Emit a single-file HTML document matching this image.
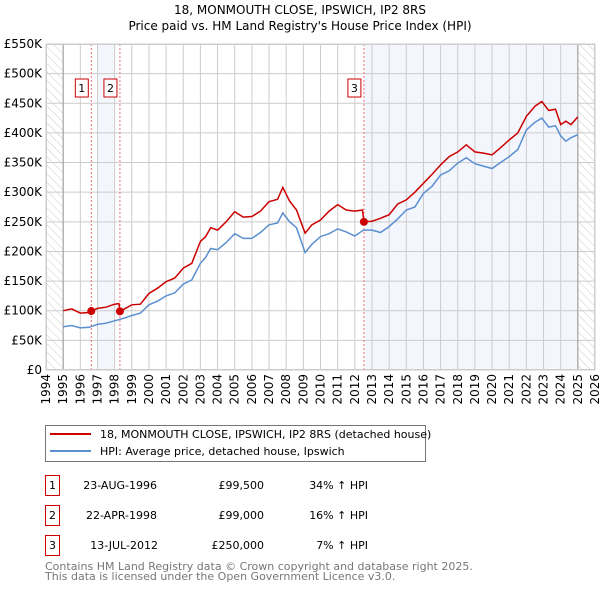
<!DOCTYPE html>
<html><head><meta charset="utf-8"><style>
body{margin:0;background:#fff;font-family:"DejaVu Sans","Liberation Sans",sans-serif;}
svg text{font-family:"DejaVu Sans","Liberation Sans",sans-serif;}
</style></head><body>
<svg id="chart" width="600" height="590" viewBox="0 0 600 590">
<defs><pattern id="hatch" width="6" height="6" patternUnits="userSpaceOnUse" patternTransform="rotate(-45)"><line x1="0" y1="0" x2="0" y2="6" stroke="#ccc" stroke-width="1"/></pattern></defs>
<text x="300" y="14" text-anchor="middle" font-size="12">18, MONMOUTH CLOSE, IPSWICH, IP2 8RS</text>
<text x="300" y="30" text-anchor="middle" font-size="12">Price paid vs. HM Land Registry's House Price Index (HPI)</text>
<g id="plot"></g>
<g>
<rect x="45.5" y="425.5" width="380" height="36" fill="#fff" stroke="#777"/>
<line x1="50" y1="434" x2="91" y2="434" stroke="#cc0000" stroke-width="2"/>
<text x="100" y="438" font-size="11">18, MONMOUTH CLOSE, IPSWICH, IP2 8RS (detached house)</text>
<line x1="50" y1="451" x2="91" y2="451" stroke="#5b8fd0" stroke-width="2"/>
<text x="100" y="455" font-size="11">HPI: Average price, detached house, Ipswich</text>
</g>
<g font-size="11">
<rect x="45.5" y="475.5" width="14" height="20" fill="#fff" stroke="#cc0000"/><text x="52.5" y="489" text-anchor="middle">1</text>
<text x="157" y="489" text-anchor="end">23-AUG-1996</text><text x="264" y="489" text-anchor="end">£99,500</text><text x="368" y="489" text-anchor="end">34% ↑ HPI</text>
<rect x="45.5" y="505.5" width="14" height="20" fill="#fff" stroke="#cc0000"/><text x="52.5" y="519" text-anchor="middle">2</text>
<text x="157" y="519" text-anchor="end">22-APR-1998</text><text x="264" y="519" text-anchor="end">£99,000</text><text x="368" y="519" text-anchor="end">16% ↑ HPI</text>
<rect x="45.5" y="535.5" width="14" height="20" fill="#fff" stroke="#cc0000"/><text x="52.5" y="549" text-anchor="middle">3</text>
<text x="158" y="549" text-anchor="end">13-JUL-2012</text><text x="264" y="549" text-anchor="end">£250,000</text><text x="368" y="549" text-anchor="end">7% ↑ HPI</text>
</g>
<text x="45" y="570" font-size="11" fill="#777">Contains HM Land Registry data © Crown copyright and database right 2025.</text>
<text x="45" y="580" font-size="11" fill="#777">This data is licensed under the Open Government Licence v3.0.</text>
</svg>
<script>
const hpiYears=[1995,1995.5,1996,1996.5,1997,1997.5,1998,1998.5,1999,1999.5,2000,2000.5,2001,2001.5,2002,2002.5,2003,2003.3,2003.6,2004,2004.5,2005,2005.5,2006,2006.5,2007,2007.5,2007.8,2008.2,2008.6,2009.1,2009.5,2010,2010.5,2011,2011.5,2012,2012.5,2013,2013.5,2014,2014.5,2015,2015.5,2016,2016.5,2017,2017.5,2018,2018.5,2019,2019.5,2020,2020.5,2021,2021.5,2022,2022.5,2022.9,2023.3,2023.7,2024,2024.3,2024.6,2025];
const hpiValues=[73,75,71,72,77,79,83,87,92,96,110,116,125,130,145,152,180,190,205,203,215,230,222,222,232,245,248,265,250,240,198,212,225,230,238,233,226,236,236,232,242,255,270,275,298,310,329,336,349,358,348,344,340,350,360,372,405,418,425,410,412,395,386,392,397];
const priceYears=[1995,1995.5,1996,1996.5,1996.65,1997,1997.5,1998,1998.25,1998.32,1998.7,1999,1999.5,2000,2000.5,2001,2001.5,2002,2002.5,2003,2003.3,2003.6,2004,2004.5,2005,2005.5,2006,2006.5,2007,2007.5,2007.8,2008.2,2008.6,2009.1,2009.5,2010,2010.5,2011,2011.5,2012,2012.45,2012.53,2013,2013.5,2014,2014.5,2015,2015.5,2016,2016.5,2017,2017.5,2018,2018.5,2019,2019.5,2020,2020.5,2021,2021.5,2022,2022.5,2022.9,2023.3,2023.7,2024,2024.3,2024.6,2025];
const priceValues=[100,103,96,97,99.5,104,106,111,112,99,105,110,111,129,138,149,155,172,180,217,225,240,236,250,267,258,259,268,284,288,308,285,270,231,245,253,268,279,270,268,270,250,251,256,262,280,287,300,315,330,346,360,368,380,368,366,363,375,388,400,428,445,453,438,440,414,420,414,427];
const yTicks=[0,50,100,150,200,250,300,350,400,450,500,550];
const yTickLabels=["£0","£50K","£100K","£150K","£200K","£250K","£300K","£350K","£400K","£450K","£500K","£550K"];
const xTicks=[1994,1995,1996,1997,1998,1999,2000,2001,2002,2003,2004,2005,2006,2007,2008,2009,2010,2011,2012,2013,2014,2015,2016,2017,2018,2019,2020,2021,2022,2023,2024,2025,2026];
const saleYears=[1996.64,1998.31,2012.53];
const saleValues=[99.5,99,250];
const saleLabels=["1","2","3"];
const L=46,R=595,T=44,B=370;
const x=v=>L+(v-1994)/32*(R-L);
const y=v=>B-v/550*(B-T);
const NS="http://www.w3.org/2000/svg";
const g=document.getElementById('plot');
function mk(tag,attrs,parent){const e=document.createElementNS(NS,tag);for(const k in attrs)e.setAttribute(k,attrs[k]);(parent||g).appendChild(e);return e;}
let e;
e=mk('rect',{x:L,y:T,width:R-L,height:B-T,fill:'#fff'});


e=mk('rect',{x:x(1997),y:T,width:x(1998)-x(1997),height:B-T,fill:'#f3f6fd'});


e=mk('rect',{x:x(2012.55),y:T,width:x(2025)-x(2012.55),height:B-T,fill:'#f3f6fd'});


e=mk('rect',{x:L,y:T,width:x(1995)-L,height:B-T,fill:'url(#hatch)'});


e=mk('rect',{x:x(2025),y:T,width:R-x(2025),height:B-T,fill:'url(#hatch)'});


yTicks.forEach((t,i)=>{
 e=mk('line',{x1:L,x2:R,y1:y(t),y2:y(t),stroke:'#ccc'});
 
 
 e=mk('text',{x:L-4,y:y(t)+4,'text-anchor':'end','font-size':'12'});
 e.textContent=yTickLabels[i];
 
 
});
xTicks.forEach(t=>{
 e=mk('line',{x1:x(t),x2:x(t),y1:T,y2:B,stroke:'#ccc'});
 
 
 e=mk('text',{x:0,y:0,'text-anchor':'end','font-size':'12',transform:`translate(${x(t)+4},${B+4}) rotate(-90)`});
 e.textContent=t;
 
 
});
e=mk('line',{x1:x(1995),x2:x(1995),y1:T,y2:B,stroke:'#999'});


e=mk('line',{x1:x(2025),x2:x(2025),y1:T,y2:B,stroke:'#999'});


saleYears.forEach((s,i)=>{
 e=mk('line',{x1:x(s),x2:x(s),y1:T,y2:B,stroke:'#f07070','stroke-dasharray':'2,2'});
 
 
 e=mk('rect',{x:x(s)-20+0.5*0,y:79,width:13,height:18,fill:'#fff',stroke:'#cc0000'});
 e.setAttribute('x',x(s)-16);
 
 
 e=mk('text',{x:x(s)-9.5,y:92,'text-anchor':'middle','font-size':'11'});
 e.textContent=saleLabels[i];
 
 
});
e=mk('path',{d:hpiYears.map((v,i)=>(i?'L':'M')+x(v).toFixed(1)+' '+y(hpiValues[i]).toFixed(1)).join(''),fill:'none',stroke:'#5b8fd0','stroke-width':1.5});


e=mk('path',{d:priceYears.map((v,i)=>(i?'L':'M')+x(v).toFixed(1)+' '+y(priceValues[i]).toFixed(1)).join(''),fill:'none',stroke:'#cc0000','stroke-width':1.5});


saleYears.forEach((s,i)=>{
 e=mk('circle',{cx:x(s),cy:y(saleValues[i]),r:4,fill:'#cc0000'});
 
 
});
e=mk('rect',{x:L+0.5,y:T+0.5,width:R-L-1,height:B-T-1,fill:'none',stroke:'#ccc'});


</script>
</body></html>
